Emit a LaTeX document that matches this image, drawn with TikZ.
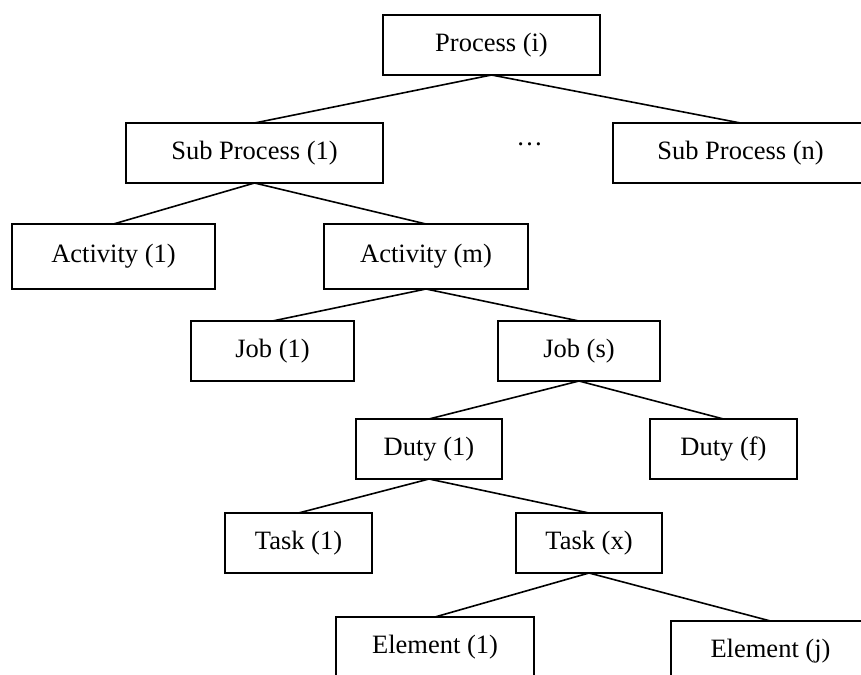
\documentclass[tikz,border=0pt]{standalone}
\usepackage{fontspec}
\setmainfont{Liberation Serif}
\begin{document}
\begin{tikzpicture}[x=1pt,y=-1pt,
  box/.style={draw=black, line width=1.6pt, rectangle, inner sep=0pt, outer sep=0pt,
    font=\fontsize{26.5}{30}\selectfont, minimum height=60pt},
  link/.style={draw=black, line width=1.6pt}]
\useasboundingbox (0,0) rectangle (861,674);
\node[box, minimum width=217pt] (proc) at (491.5,45) {Process (i)};
\node[box, minimum width=257pt] (sp1) at (254.5,153) {Sub Process (1)};
\node[box, minimum width=255pt] (spn) at (740.5,153) {Sub Process (n)};
\node[font=\fontsize{26.5}{30}\selectfont, inner sep=0pt, anchor=base] (dots) at (529.5,145) {…};
\node[box, minimum width=203pt, minimum height=65pt] (act1) at (113.5,256.5) {Activity (1)};
\node[box, minimum width=204pt, minimum height=65pt] (actm) at (426,256.5) {Activity (m)};
\node[box, minimum width=163pt] (job1) at (272.5,351) {Job (1)};
\node[box, minimum width=162pt] (jobs) at (579,351) {Job (s)};
\node[box, minimum width=146pt] (duty1) at (429,449) {Duty (1)};
\node[box, minimum width=147pt] (dutyf) at (723.5,449) {Duty (f)};
\node[box, minimum width=147pt] (task1) at (298.5,543) {Task (1)};
\node[box, minimum width=146pt] (taskx) at (589,543) {Task (x)};
\node[box, minimum width=198pt] (el1) at (435,647) {Element (1)};
\node[box, minimum width=199pt] (elj) at (770.5,651) {Element (j)};
\draw[link] (proc.south) -- (sp1.north);
\draw[link] (proc.south) -- (spn.north);
\draw[link] (sp1.south) -- (act1.north);
\draw[link] (sp1.south) -- (actm.north);
\draw[link] (actm.south) -- (job1.north);
\draw[link] (actm.south) -- (jobs.north);
\draw[link] (jobs.south) -- (duty1.north);
\draw[link] (jobs.south) -- (dutyf.north);
\draw[link] (duty1.south) -- (task1.north);
\draw[link] (duty1.south) -- (taskx.north);
\draw[link] (taskx.south) -- (el1.north);
\draw[link] (taskx.south) -- (elj.north);
\end{tikzpicture}
\end{document}
